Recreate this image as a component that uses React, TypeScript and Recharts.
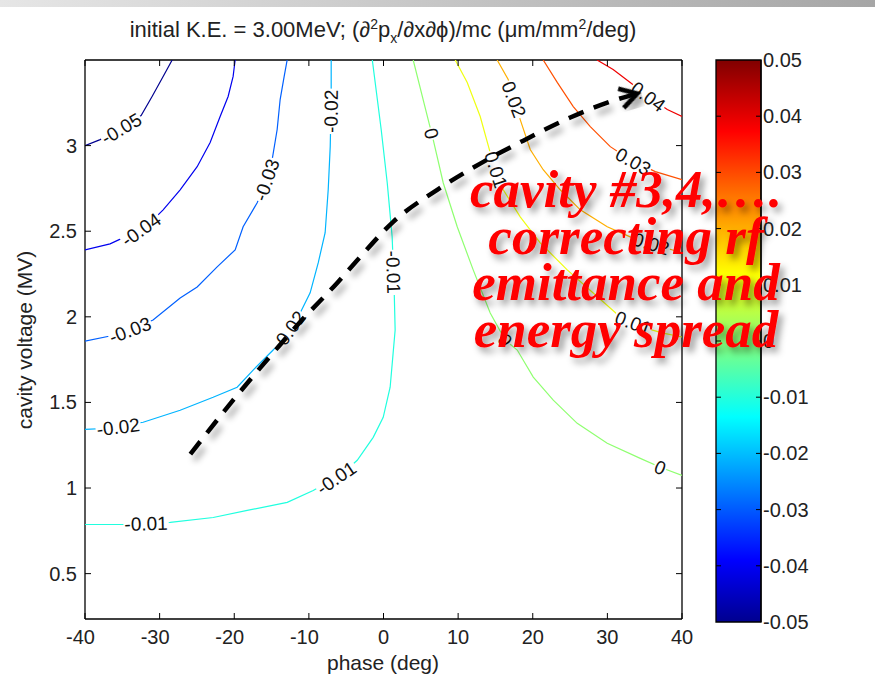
import React from "react";
import { ComposedChart, Scatter, XAxis, YAxis, ReferenceArea } from "recharts";

const W = 875;
const H = 690;
const SANS = '"Liberation Sans", Arial, Helvetica, sans-serif';
const SERIF = '"Liberation Serif", "Times New Roman", serif';

// axes
const phaseDomain = [-40, 40];
const voltageDomain = [0.235, 3.5];
const phaseTicks = [-40, -30, -20, -10, 0, 10, 20, 30, 40];
const voltageTicks = [0.5, 1, 1.5, 2, 2.5, 3];
const levelTicks = [-0.05, -0.04, -0.03, -0.02, -0.01, 0, 0.01, 0.02, 0.03, 0.04, 0.05];

// plot box (px) -> used for label rotation only
const PLOT = { left: 85, top: 60, right: 682, bottom: 619 };
const PX_DEG = (PLOT.right - PLOT.left) / (phaseDomain[1] - phaseDomain[0]);
const PX_MV = (PLOT.bottom - PLOT.top) / (voltageDomain[1] - voltageDomain[0]);

// contour lines [phase (deg), voltage (MV)]
const cM05 = [[-40, 3.0], [-37.97, 3.035], [-35.3, 3.105], [-32.48, 3.176], [-31.01, 3.287], [-29.53, 3.404], [-28.32, 3.5]];
const cM04 = [[-40, 2.391], [-36.64, 2.426], [-34.63, 2.467], [-31.95, 2.52], [-29.53, 2.625], [-27.25, 2.742], [-24.97, 2.877], [-23.23, 3.018], [-21.89, 3.17], [-20.82, 3.287], [-20.15, 3.404], [-19.88, 3.5]];
const cM03 = [[-40, 1.858], [-36.64, 1.888], [-33.96, 1.923], [-30.88, 1.981], [-27.25, 2.11], [-24.97, 2.174], [-22.29, 2.292], [-19.88, 2.391], [-18.81, 2.526], [-16.93, 2.666], [-15.86, 2.772], [-14.92, 2.918], [-14.25, 3.094], [-13.85, 3.269], [-13.31, 3.404], [-12.91, 3.5]];
const cM02 = [[-7.01, 3.5], [-7.01, 3.269], [-7.14, 2.994], [-7.41, 2.742], [-7.82, 2.491], [-8.75, 2.315], [-9.83, 2.14], [-11.17, 2.022], [-12.91, 1.905], [-14.79, 1.806], [-17.47, 1.689], [-19.61, 1.589], [-22.83, 1.53], [-27.25, 1.454], [-32.21, 1.384], [-36.64, 1.349], [-40, 1.343]];
const cM01 = [[-1.5, 3.5], [-0.31, 3.094], [0.5, 2.783], [1.16, 2.467], [1.43, 2.157], [1.56, 1.923], [1.29, 1.788], [0.89, 1.589], [-0.04, 1.413], [-1.38, 1.296], [-3.52, 1.162], [-5.8, 1.074], [-9.42, 0.986], [-12.9, 0.916], [-18.26, 0.869], [-22.82, 0.828], [-28.58, 0.799], [-34.88, 0.787], [-40, 0.787]];
const c00 = [[3.98, 3.5], [6.66, 3.035], [8.0, 2.783], [9.88, 2.526], [12.02, 2.274], [14.3, 2.022], [16.31, 1.864], [17.92, 1.806], [20.07, 1.648], [22.75, 1.513], [25.96, 1.378], [29.98, 1.261], [34.41, 1.173], [37.09, 1.121], [40, 1.074]];
const cP01 = [[9.61, 3.5], [11.22, 3.369], [12.96, 3.17], [14.3, 2.959], [16.05, 2.742], [18.32, 2.584], [21.0, 2.432], [24.62, 2.274], [28.1, 2.139], [31.73, 1.999], [35.08, 1.934], [37.49, 1.905], [40, 1.882]];
const cP02 = [[15.23, 3.5], [16.71, 3.386], [18.32, 3.152], [19.66, 2.977], [21.4, 2.859], [23.68, 2.742], [26.37, 2.625], [29.98, 2.526], [33.06, 2.467], [36.42, 2.42], [40, 2.374]];
const cP03 = [[21.4, 3.5], [23.28, 3.369], [25.43, 3.228], [27.71, 3.111], [30.39, 2.994], [33.06, 2.918], [36.42, 2.848], [40, 2.801]];
const cP04 = [[28.62, 3.5], [30.77, 3.445], [33.06, 3.369], [35.48, 3.287], [38.03, 3.211], [40, 3.17]];

const contours = [
  { level: -0.05, color: "#00008f", pts: cM05 },
  { level: -0.04, color: "#0000ef", pts: cM04 },
  { level: -0.03, color: "#0060ff", pts: cM03 },
  { level: -0.02, color: "#00b4ff", pts: cM02 },
  { level: -0.01, color: "#20ffdf", pts: cM01 },
  { level: 0, color: "#8fff70", pts: c00 },
  { level: 0.01, color: "#efff10", pts: cP01 },
  { level: 0.02, color: "#ffaf00", pts: cP02 },
  { level: 0.03, color: "#ff5000", pts: cP03 },
  { level: 0.04, color: "#ef0000", pts: cP04 },
];

// inline contour labels [level, phase, voltage]
const labelSpots = [
  [-0.05, -35.16, 3.1], [-0.04, -32.5, 2.51], [-0.03, -33.96, 1.923], [-0.03, -15.68, 2.8],
  [-0.02, -7.05, 3.2], [-0.02, -12.7, 1.92], [-0.02, -35.56, 1.357],
  [-0.01, -31.82, 0.793], [-0.01, -6.34, 1.06], [-0.01, 1.34, 2.26],
  [0, 6.46, 3.07], [0, 16.31, 1.864], [0, 37.09, 1.121],
  [0.01, 15.1, 2.86], [0.01, 33.47, 1.965],
  [0.02, 17.5, 3.27], [0.02, 35.88, 2.428],
  [0.03, 33.47, 2.908], [0.04, 35.48, 3.287],
];

// dashed annotation arrow [phase, voltage]
const arrowPath = [[-25.88, 1.198], [-20.15, 1.513], [-14.25, 1.817], [-11.17, 1.97], [-6.21, 2.198], [-3.12, 2.35], [1.3, 2.555], [7.2, 2.742], [12.96, 2.895], [18.73, 3.029], [25.03, 3.164], [30.8, 3.263], [34.01, 3.304]];

const noteLines = ["cavity #3,4,\u2026.", "correcting rf", "emittance and", "energy spread"];

const toPts = (a: number[][]) => a.map(([x, y]) => ({ x, y }));
const fmtLevel = (v: number) => (Math.abs(v) < 1e-9 ? "0" : v.toFixed(2));

// svg rotation (deg) of a data-space direction
const screenAngle = (dx: number, dy: number) => (Math.atan2(-dy * PX_MV, dx * PX_DEG) * 180) / Math.PI;

const angleAt = (level: number, x: number, y: number) => {
  const c = contours.find(k => Math.abs(k.level - level) < 1e-9)!;
  let best = 0, bestD = Infinity;
  c.pts.forEach(([px, py], i) => {
    const d = Math.hypot((px - x) * PX_DEG, (py - y) * PX_MV);
    if (d < bestD) { bestD = d; best = i; }
  });
  const a = c.pts[Math.max(best - 1, 0)];
  const b = c.pts[Math.min(best + 1, c.pts.length - 1)];
  let ang = screenAngle(b[0] - a[0], b[1] - a[1]);
  if (ang > 90) ang -= 180;
  if (ang <= -90) ang += 180;
  return ang;
};

const labelData = labelSpots.map(([level, x, y]) => ({ x, y, text: fmtLevel(level), angle: angleAt(level, x, y) }));

const lastA = arrowPath[arrowPath.length - 1];
const prevA = arrowPath[arrowPath.length - 2];
const arrowTip = [{ x: lastA[0], y: lastA[1], angle: screenAngle(lastA[0] - prevA[0], lastA[1] - prevA[1]) }];

const textW = (s: string, size: number) =>
  s.split("").reduce((w, ch) => w + (ch === "." ? 0.278 : ch === "-" ? 0.333 : 0.556), 0) * size;

const Empty = () => <g />;

const ContourLabel = (p: any) => {
  const { cx, cy, payload } = p;
  const w = textW(payload.text, 19);
  return (
    <g transform={`translate(${cx},${cy}) rotate(${payload.angle})`}>
      <rect x={-w / 2 - 1} y={-8} width={w + 2} height={16} fill="#fff" />
      <text x={0} y={0} dy="0.36em" textAnchor="middle" fontSize={19} fontFamily={SANS} fill="#111">{payload.text}</text>
    </g>
  );
};

const ArrowHead = (p: any) => (
  <g transform={`translate(${p.cx},${p.cy}) rotate(${p.payload.angle})`} filter="url(#dropShadow)">
    <path d="M-17,-10 L0,0 L-17,10" fill="none" stroke="#000" strokeWidth={4.5} />
  </g>
);

const TICK = 6;
const tickText = { fontSize: 20, fontFamily: SANS, fill: "#222" };

const BottomTick = (p: any) => {
  const v = p.payload.value;
  return (
    <g>
      <line x1={p.x} y1={p.y} x2={p.x} y2={p.y - TICK} stroke="#000" />
      <text x={p.x - (v < 0 ? 4.5 : 0)} y={p.y + 25} textAnchor="middle" {...tickText}>{v}</text>
    </g>
  );
};
const TopTick = (p: any) => <line x1={p.x} y1={p.y} x2={p.x} y2={p.y + TICK} stroke="#000" />;
const LeftTick = (p: any) => (
  <g>
    <line x1={p.x} y1={p.y} x2={p.x + TICK} y2={p.y} stroke="#000" />
    <text x={p.x - 8} y={p.y + 7} textAnchor="end" {...tickText}>{p.payload.value}</text>
  </g>
);
const RightTick = (p: any) => <line x1={p.x} y1={p.y} x2={p.x - TICK} y2={p.y} stroke="#000" />;

const CB_W = 45;
const ColorbarTick = (p: any) => {
  const v = p.payload.value;
  const edge = Math.abs(Math.abs(v) - 0.05) < 1e-9;
  return (
    <g>
      {!edge && <line x1={p.x} y1={p.y} x2={p.x - 5} y2={p.y} stroke="#000" />}
      {!edge && <line x1={p.x - CB_W} y1={p.y} x2={p.x - CB_W + 5} y2={p.y} stroke="#000" />}
      <text x={p.x + 2} y={p.y + 7} textAnchor="start" {...tickText}>{fmtLevel(v)}</text>
    </g>
  );
};

const axisLine = { stroke: "#000", strokeWidth: 1.3 };

export default function App() {
  return (
    <div style={{ position: "absolute", left: 0, top: 0, width: W, height: H, background: "#fff", overflow: "hidden" }}>
      <div style={{ position: "absolute", left: 0, top: 0, width: W, height: 7, background: "linear-gradient(to right, #e6e6e6, #a6a6a6)" }} />

      <div style={{ position: "absolute", left: 0, top: 0 }}>
        <ComposedChart width={W} height={H} margin={{ top: 59, right: 192, bottom: 41, left: 0 }}>
          <defs>
            <filter id="dropShadow" x="-20%" y="-20%" width="140%" height="140%">
              <feDropShadow dx="4" dy="6" stdDeviation="3" floodColor="#000" floodOpacity="0.35" />
            </filter>
          </defs>
          <XAxis type="number" dataKey="x" domain={phaseDomain} ticks={phaseTicks} allowDataOverflow interval={0}
            height={30} tickSize={0} tickMargin={0} tickLine={false} axisLine={axisLine} tick={BottomTick} />
          <XAxis xAxisId="top" orientation="top" type="number" dataKey="x" domain={phaseDomain} ticks={phaseTicks} allowDataOverflow interval={0}
            height={1} tickSize={0} tickMargin={0} tickLine={false} axisLine={axisLine} tick={TopTick} />
          <YAxis type="number" dataKey="y" domain={voltageDomain} ticks={voltageTicks} allowDataOverflow interval={0}
            width={85} tickSize={0} tickMargin={0} tickLine={false} axisLine={axisLine} tick={LeftTick} />
          <YAxis yAxisId="right" orientation="right" type="number" dataKey="y" domain={voltageDomain} ticks={voltageTicks} allowDataOverflow interval={0}
            width={1} tickSize={0} tickMargin={0} tickLine={false} axisLine={axisLine} tick={RightTick} />

          {contours.map(c => (
            <Scatter key={c.level} data={toPts(c.pts)} line={{ stroke: c.color, strokeWidth: 1.2 }} lineJointType="linear"
              shape={Empty} isAnimationActive={false} />
          ))}
          <Scatter data={labelData} shape={ContourLabel} isAnimationActive={false} />
          <Scatter data={toPts(arrowPath)} line={{ stroke: "#000", strokeWidth: 4.5, strokeDasharray: "16 11", filter: "url(#dropShadow)" }}
            lineJointType="monotoneX" shape={Empty} isAnimationActive={false} />
          <Scatter data={arrowTip} shape={ArrowHead} isAnimationActive={false} />
        </ComposedChart>
      </div>

      <div style={{ position: "absolute", left: 0, top: 0 }}>
        <ComposedChart width={W} height={H} margin={{ top: 60, right: 14, bottom: 68, left: 716 }}>
          <defs>
            <linearGradient id="jet" x1="0" y1="1" x2="0" y2="0">
              <stop offset="0" stopColor="#00008f" />
              <stop offset="0.11" stopColor="#0000ff" />
              <stop offset="0.365" stopColor="#00ffff" />
              <stop offset="0.62" stopColor="#ffff00" />
              <stop offset="0.873" stopColor="#ff0000" />
              <stop offset="1" stopColor="#800000" />
            </linearGradient>
          </defs>
          <XAxis type="number" dataKey="x" domain={[0, 1]} allowDataOverflow hide />
          <YAxis orientation="right" type="number" dataKey="y" domain={[-0.05, 0.05]} ticks={levelTicks} allowDataOverflow interval={0}
            width={100} tickSize={0} tickMargin={0} tickLine={false} axisLine={axisLine} tick={ColorbarTick} />
          <ReferenceArea x1={0} x2={1} y1={-0.05} y2={0.05} fill="url(#jet)" fillOpacity={1} stroke="#000" strokeWidth={1.3} ifOverflow="visible" />
        </ComposedChart>
      </div>

      <div style={{ position: "absolute", left: 0, top: 11, width: 766, textAlign: "center", fontFamily: SANS, fontSize: 22, lineHeight: "26px", color: "#222", whiteSpace: "nowrap" }}>
        initial K.E. = 3.00MeV; (&#8706;<sup style={{ fontSize: 14 }}>2</sup>p<sub style={{ fontSize: 14 }}>x</sub>/&#8706;x&#8706;&#981;)/mc (&#956;m/mm<sup style={{ fontSize: 14 }}>2</sup>/deg)
      </div>

      <svg width={W} height={H} style={{ position: "absolute", left: 0, top: 0, pointerEvents: "none" }}>
        <defs>
          <filter id="textShadow" x="-10%" y="-30%" width="120%" height="160%">
            <feDropShadow dx="4" dy="5" stdDeviation="3.5" floodColor="#000" floodOpacity="0.4" />
          </filter>
        </defs>
        <text x={383} y={670} textAnchor="middle" fontFamily={SANS} fontSize={21} fill="#222">phase (deg)</text>
        <text x={0} y={0} transform="translate(32,340) rotate(-90)" textAnchor="middle" fontFamily={SANS} fontSize={21} fill="#222">cavity voltage (MV)</text>
        <g filter="url(#textShadow)">
          {noteLines.map((t, i) => (
            <text key={t} x={626} y={207 + i * 46.7} textAnchor="middle" fontFamily={SERIF} fontWeight="bold" fontStyle="italic" fontSize={53} fill="#ff0000">{t}</text>
          ))}
        </g>
      </svg>
    </div>
  );
}
